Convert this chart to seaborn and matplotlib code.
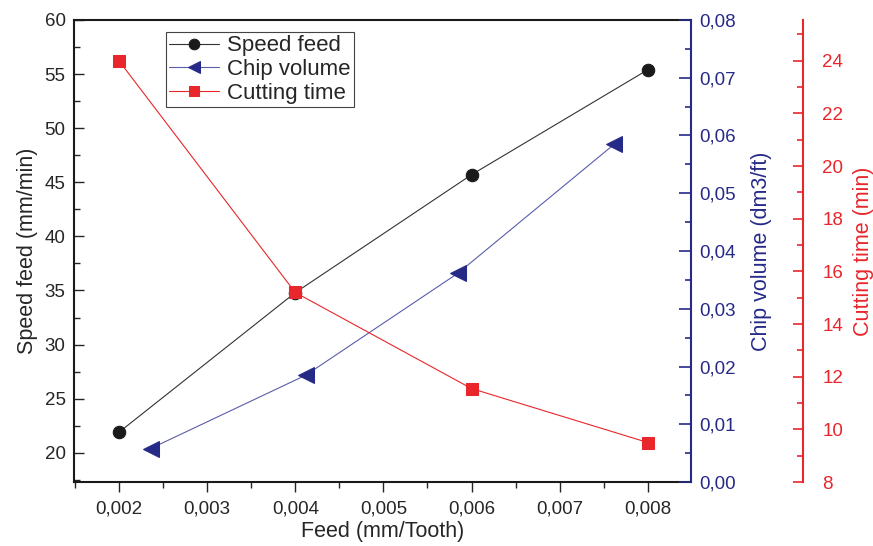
import matplotlib
matplotlib.use("Agg")
import matplotlib.pyplot as plt
from matplotlib.ticker import MultipleLocator, FuncFormatter
import seaborn as sns

# values
feed = [0.002, 0.004, 0.006, 0.008]
speed_feed = [21.9, 34.8, 45.7, 55.4]
chip_feed = [0.00236, 0.00412, 0.00585, 0.00762]
chip_volume = [0.0058, 0.0185, 0.0362, 0.0585]
cutting_time = [24.0, 15.2, 11.55, 9.5]

black = "#1a1a1a"
navy = "#262a87"
navy_line = "#5a5ea8"
red = "#e8262b"

sns.set_style("ticks")
plt.rcParams["font.family"] = ["Liberation Sans", "DejaVu Sans"]

fig = plt.figure(figsize=(8.73, 5.46), dpi=100)
ax = fig.add_axes([0.0848, 0.1172, 0.7067, 0.8462])
ax2 = ax.twinx()
ax3 = ax.twinx()

sns.lineplot(x=feed, y=speed_feed, ax=ax, color="#333333", lw=0.8, marker="o", ms=9,
             mec=black, mfc=black, label="Speed feed", legend=False)
sns.lineplot(x=chip_feed, y=chip_volume, ax=ax2, color=navy_line, lw=0.8, marker="<", ms=11,
             mec=navy, mfc=navy, label="Chip volume", legend=False)
sns.lineplot(x=feed, y=cutting_time, ax=ax3, color=red, lw=0.8, marker="s", ms=8,
             mec=red, mfc=red, label="Cutting time", legend=False)

ax.set_xlim(0.00149, 0.00849)
ax.set_ylim(17.3, 60)
ax2.set_ylim(0, 0.08)
ax3.set_ylim(8, 25.55)

comma = lambda nd: FuncFormatter(lambda v, p: f"{v:.{nd}f}".replace(".", ","))

ax.xaxis.set_major_locator(MultipleLocator(0.001))
ax.xaxis.set_minor_locator(MultipleLocator(0.0005))
ax.xaxis.set_major_formatter(comma(3))
ax.yaxis.set_major_locator(MultipleLocator(5))
ax.yaxis.set_minor_locator(MultipleLocator(2.5))
ax.tick_params(axis="x", which="major", direction="out", length=7, width=1, labelsize=13.5, pad=6)
ax.tick_params(axis="x", which="minor", direction="out", length=4, width=1)
ax.tick_params(axis="y", which="major", direction="in", length=7, width=1, labelsize=13.5, pad=6)
ax.tick_params(axis="y", which="minor", direction="in", length=4.5, width=1)
ax.set_xlabel("Feed (mm/Tooth)", fontsize=15.5, labelpad=3)
ax.set_ylabel("Speed feed (mm/min)", fontsize=15.5, labelpad=5)
for s in ["left", "bottom", "top"]:
    ax.spines[s].set_color(black)
    ax.spines[s].set_linewidth(1.5)
ax.spines["right"].set_visible(False)

ax2.yaxis.set_major_locator(MultipleLocator(0.01))
ax2.yaxis.set_minor_locator(MultipleLocator(0.005))
ax2.yaxis.set_major_formatter(comma(2))
ax2.tick_params(axis="y", which="major", direction="in", length=9, width=1.2, colors=navy,
                labelsize=13.5, pad=6)
ax2.tick_params(axis="y", which="minor", direction="in", length=4.5, width=1.2, colors=navy)
ax2.set_ylabel("Chip volume (dm3/ft)", fontsize=15.5, color=navy, labelpad=11)
for s in ["left", "bottom", "top"]:
    ax2.spines[s].set_visible(False)
ax2.spines["right"].set_color(navy)
ax2.spines["right"].set_linewidth(1.5)

ax3.spines["right"].set_position(("axes", 1.1815))
for s in ["left", "bottom", "top"]:
    ax3.spines[s].set_visible(False)
ax3.spines["right"].set_color(red)
ax3.spines["right"].set_linewidth(1.5)
ax3.yaxis.set_major_locator(MultipleLocator(2))
ax3.yaxis.set_minor_locator(MultipleLocator(1))
ax3.tick_params(axis="y", which="major", direction="in", length=7, width=1.2, colors=red,
                labelsize=13.5, pad=14)
ax3.tick_params(axis="y", which="minor", direction="in", length=4.5, width=1.2, colors=red)
ax3.set_ylabel("Cutting time (min)", fontsize=15.5, color=red, labelpad=7)

handles = [ax.lines[0], ax2.lines[0], ax3.lines[0]]
labels = ["Speed feed", "Chip volume", "Cutting time"]
leg = ax3.legend(handles, labels, loc="upper left", bbox_to_anchor=(0.149, 0.974),
                 borderaxespad=0, fancybox=False, framealpha=1, edgecolor="#444444",
                 fontsize=16, handlelength=2.25, handletextpad=0.35, labelspacing=0.12,
                 borderpad=0.15, markerscale=0.85)
leg.get_frame().set_linewidth(0.8)

fig.savefig("out.png", dpi=100)
